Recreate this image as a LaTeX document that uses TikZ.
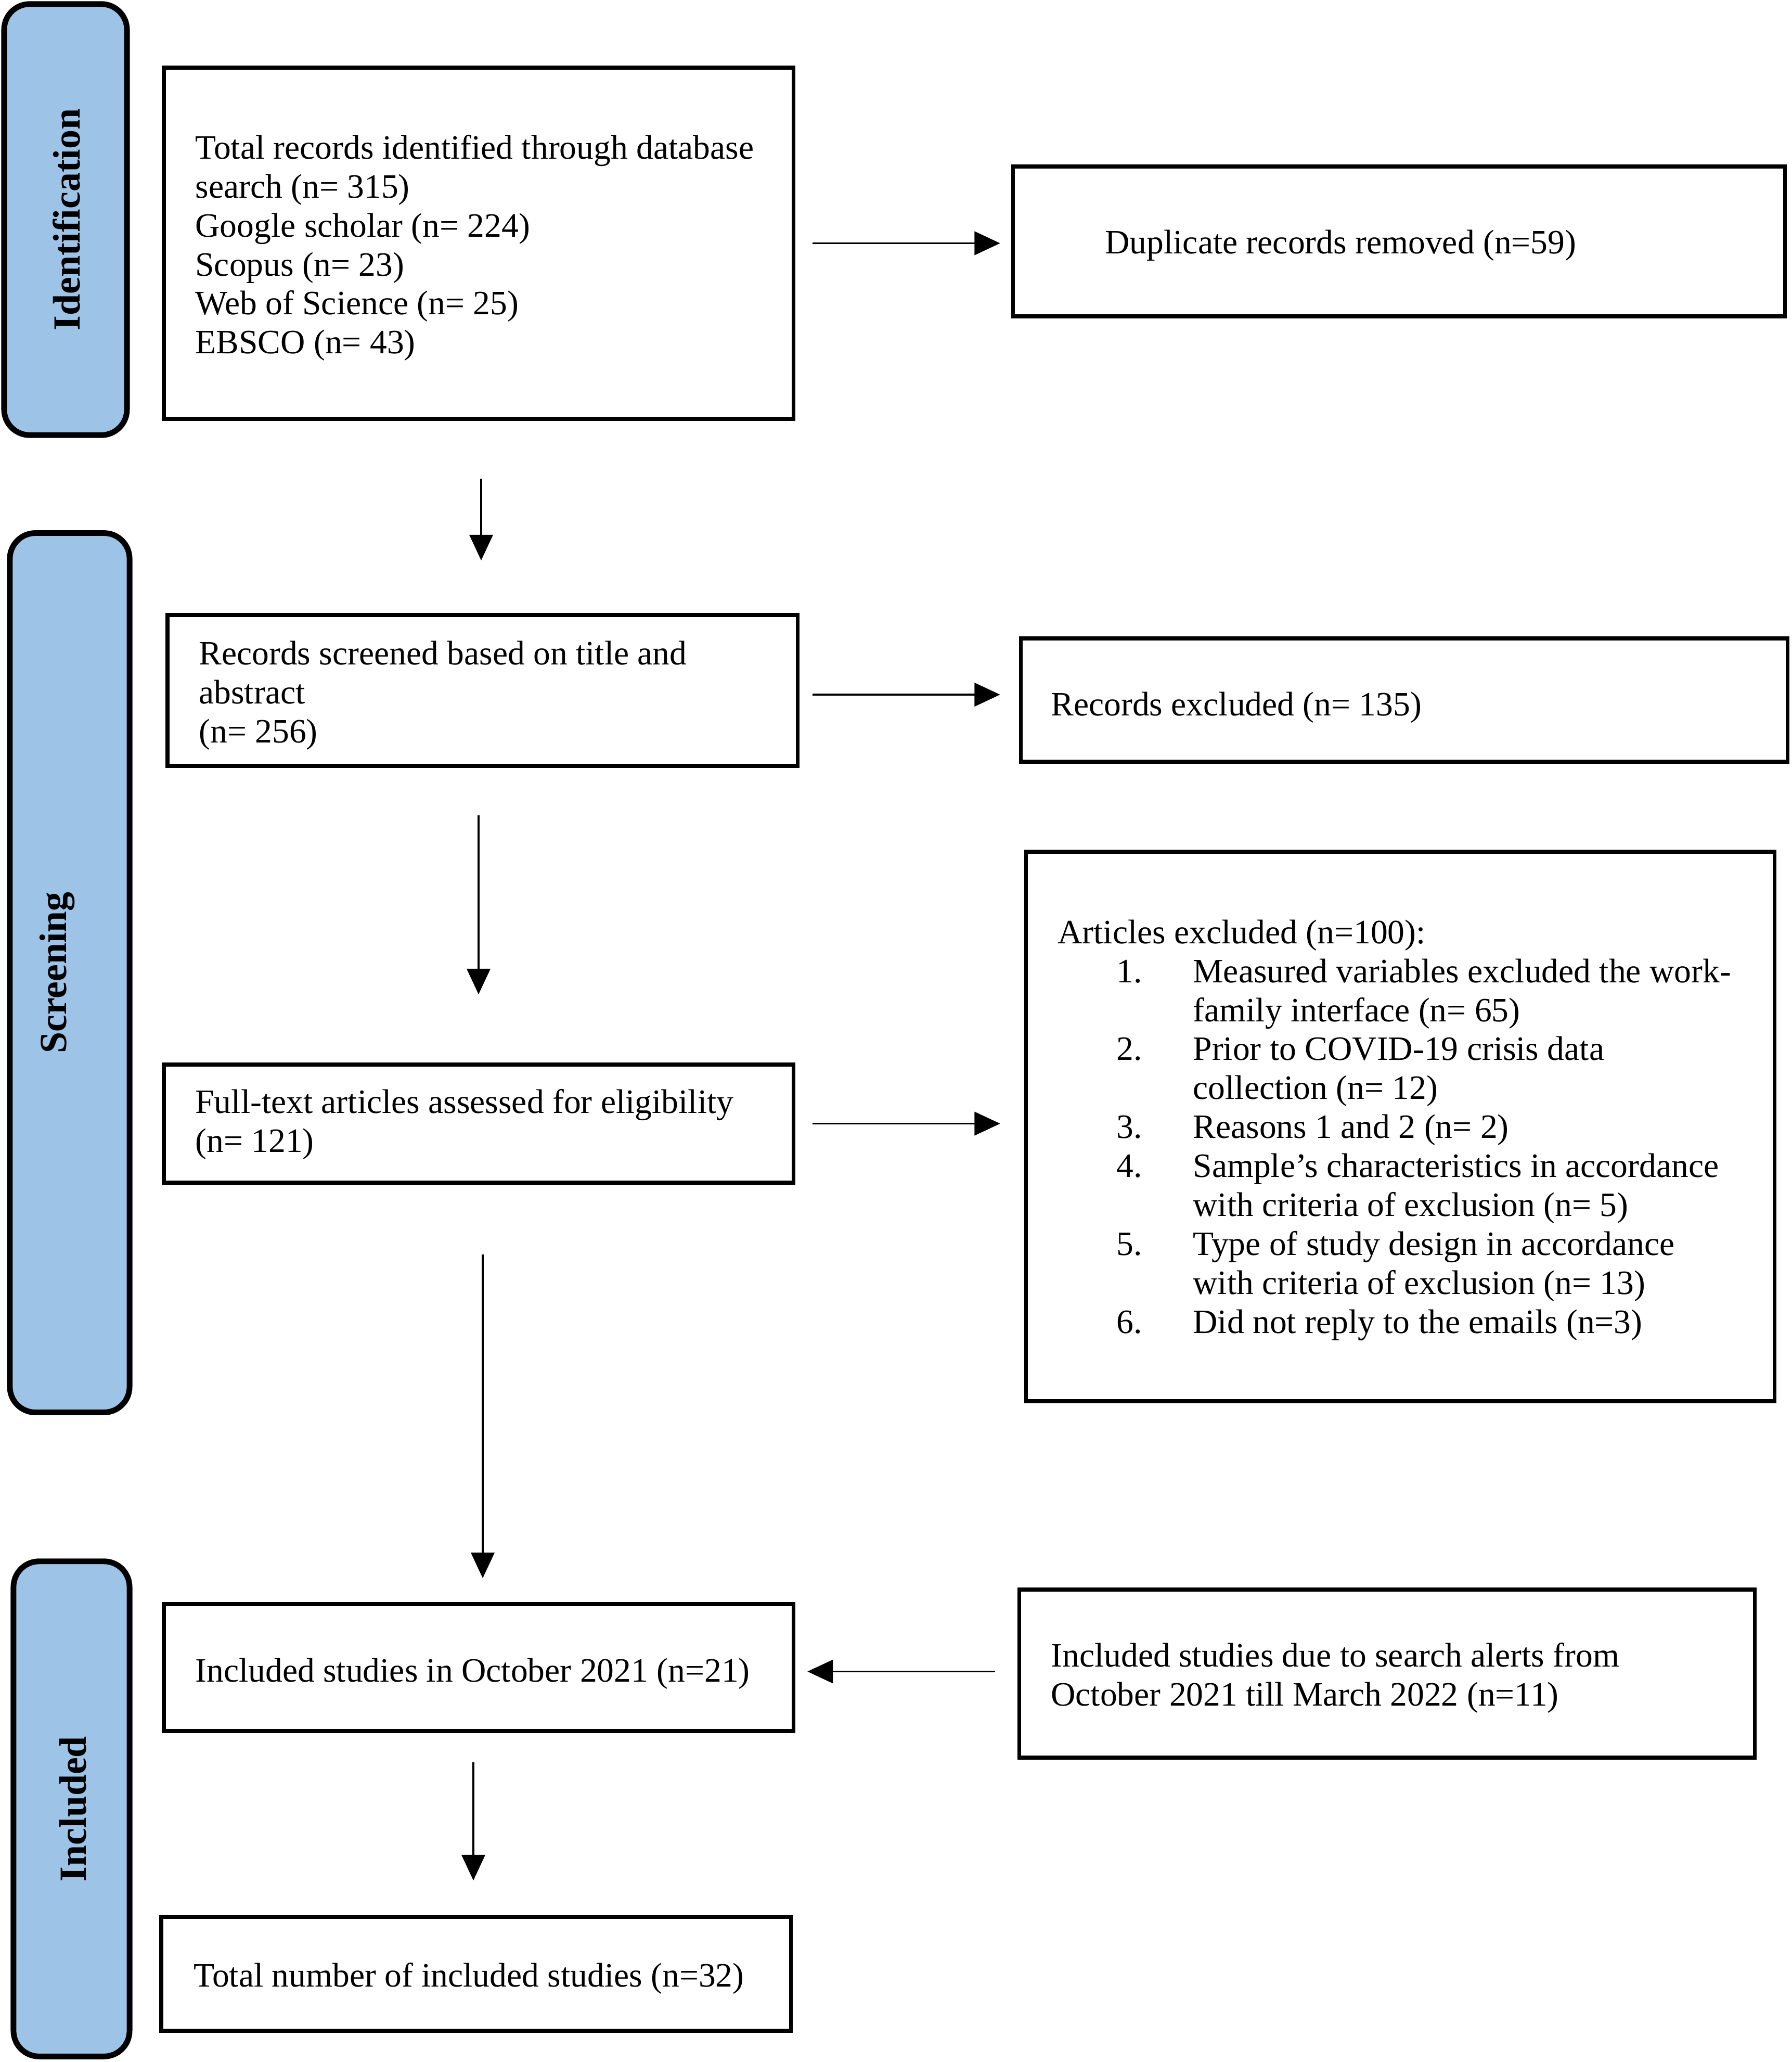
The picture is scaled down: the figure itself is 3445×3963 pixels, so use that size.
\documentclass[tikz,border=0pt]{standalone}
\usepackage{fontspec}
\setmainfont{Liberation Serif}
\usetikzlibrary{arrows.meta}
\definecolor{phaseblue}{RGB}{157,195,230}
\tikzset{
  box/.style={draw=black, line width=2.2pt, rectangle, inner sep=0pt},
  txt/.style={inner sep=0pt, anchor=west, align=left, font=\fontsize{18.65}{21.3}\selectfont},
  phase/.style={draw=black, line width=3.1pt, fill=phaseblue, rounded corners=14pt, inner sep=0pt},
  phaselabel/.style={rotate=90, inner sep=0pt, font=\fontsize{21}{24}\selectfont\bfseries},
  arr/.style={line width=1.1pt, -{Triangle[length=14pt,width=12.8pt]}},
}
\newcommand{\itemA}[1]{\hspace*{1.13cm}\makebox[1.47cm][l]{#1}}
\newcommand{\itemB}{\hspace*{2.60cm}}
\begin{document}
\begin{tikzpicture}[x=0.01cm,y=-0.01cm]
\useasboundingbox[fill=white] (0,0) rectangle (3445,3963);

% phase boxes
\node[phase, minimum width=2.36cm, minimum height=8.28cm] (pid) at (126,422) {};
\node[phaselabel] (lid) at (128,422) {Identification};
\node[phase, minimum width=2.30cm, minimum height=16.89cm] (psc) at (134,1869.5) {};
\node[phaselabel] (lsc) at (110,1869.5) {Screening};
\node[phase, minimum width=2.23cm, minimum height=9.51cm] (pin) at (137.5,3476.5) {};
\node[phaselabel] (lin) at (140,3476.5) {Included};

% boxes
\node[box, minimum width=12.10cm, minimum height=6.75cm] (b1) at (920,467.5) {};
\node[txt] (t1) at ([xshift=0.64cm,yshift=-0.09cm]b1.west)
  {Total records identified through database\\search (n= 315)\\Google scholar (n= 224)\\Scopus (n= 23)\\Web of Science (n= 25)\\EBSCO (n= 43)};
\node[box, minimum width=14.83cm, minimum height=2.88cm] (dup) at (2689.5,464) {};
\node[txt] (tdup) at ([xshift=1.80cm,yshift=-0.08cm]dup.west) {Duplicate records removed (n=59)};
\node[box, minimum width=12.11cm, minimum height=2.90cm] (scr) at (927.5,1327) {};
\node[txt] (tscr) at ([xshift=0.64cm,yshift=-0.10cm]scr.west)
  {Records screened based on title and\\abstract\\(n= 256)};
\node[box, minimum width=14.73cm, minimum height=2.37cm] (exc) at (2699.5,1345.5) {};
\node[txt] (texc) at ([xshift=0.61cm,yshift=-0.14cm]exc.west) {Records excluded (n= 135)};
\node[box, minimum width=12.10cm, minimum height=2.27cm] (full) at (920,2159.5) {};
\node[txt] (tfull) at ([xshift=0.64cm,yshift=-0.01cm]full.west)
  {Full-text articles assessed for eligibility\\(n= 121)};
\node[box, minimum width=14.38cm, minimum height=10.56cm] (art) at (2692,2165) {};
\node[txt] (tart) at ([xshift=0.64cm,yshift=-0.07cm]art.west)
  {Articles excluded (n=100):\\
   \itemA{1.}Measured variables excluded the work-\\
   \itemB family interface (n= 65)\\
   \itemA{2.}Prior to COVID-19 crisis data\\
   \itemB collection (n= 12)\\
   \itemA{3.}Reasons 1 and 2 (n= 2)\\
   \itemA{4.}Sample’s characteristics in accordance\\
   \itemB with criteria of exclusion (n= 5)\\
   \itemA{5.}Type of study design in accordance\\
   \itemB with criteria of exclusion (n= 13)\\
   \itemA{6.}Did not reply to the emails (n=3)};
\node[box, minimum width=12.10cm, minimum height=2.44cm] (oct) at (920,3205) {};
\node[txt] (toct) at ([xshift=0.64cm,yshift=-0.12cm]oct.west) {Included studies in October 2021 (n=21)};
\node[box, minimum width=14.13cm, minimum height=3.23cm] (alr) at (2666.5,3216.5) {};
\node[txt] (talr) at ([xshift=0.64cm,yshift=-0.08cm]alr.west)
  {Included studies due to search alerts from\\October 2021 till March 2022 (n=11)};
\node[box, minimum width=12.10cm, minimum height=2.19cm] (tot) at (915,3793.5) {};
\node[txt] (ttot) at ([xshift=0.66cm,yshift=-0.09cm]tot.west) {Total number of included studies (n=32)};

% horizontal arrows
\draw[arr, shorten <=0.33cm, shorten >=0.21cm] (b1.east) -- (b1.east -| dup.west);
\draw[arr, shorten <=0.25cm, shorten >=0.36cm] ([yshift=-0.08cm]scr.east) -- ([yshift=-0.08cm]scr.east -| exc.west);
\draw[arr, shorten <=0.33cm, shorten >=0.46cm] (full.east) -- (full.east -| art.west);
\draw[arr, shorten <=0.43cm, shorten >=0.23cm] ([yshift=0.04cm]alr.west) -- ([yshift=0.04cm]alr.west -| oct.east);

% vertical arrows
\draw[arr, shorten <=1.11cm, shorten >=1.01cm] ([xshift=0.05cm]b1.south) -- ([xshift=0.05cm]b1.south |- scr.north);
\draw[arr, shorten <=0.91cm, shorten >=1.31cm] ([xshift=-0.075cm]scr.south) -- ([xshift=-0.075cm]scr.south |- full.north);
\draw[arr, shorten <=1.34cm, shorten >=0.46cm] ([xshift=0.08cm]full.south) -- ([xshift=0.08cm]full.south |- oct.north);
\draw[arr, shorten <=0.56cm, shorten >=0.66cm] ([xshift=-0.10cm]oct.south) -- ([xshift=-0.10cm]oct.south |- tot.north);
\end{tikzpicture}
\end{document}
